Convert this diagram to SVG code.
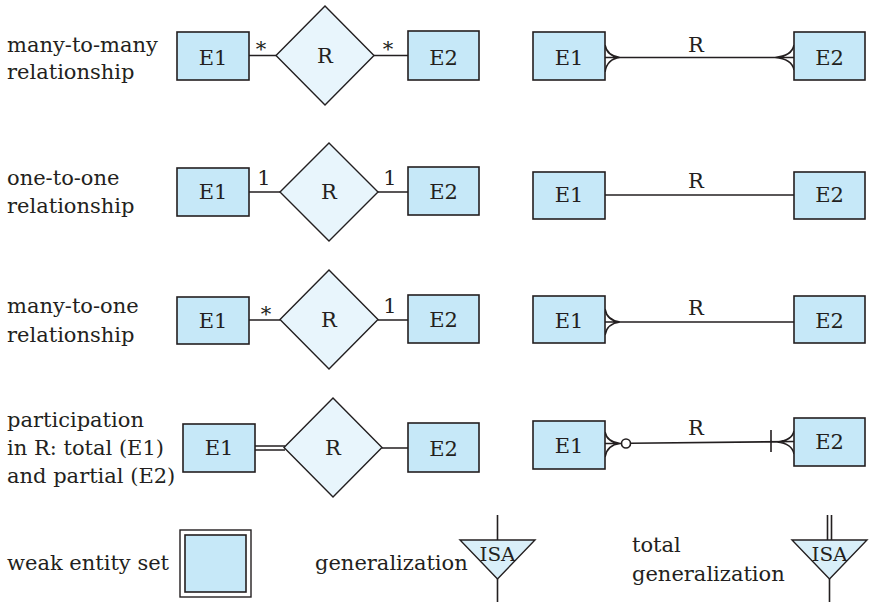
<svg xmlns="http://www.w3.org/2000/svg" width="878" height="602" viewBox="0 0 878 602">
<style>
text{font-family:"DejaVu Serif","Liberation Serif",serif;font-size:21px;fill:#231f20}
.c{text-anchor:middle}
.ent{fill:#c6e8f8;stroke:#231f20;stroke-width:1.6}
.rel{fill:#e8f5fc;stroke:#231f20;stroke-width:1.4}
.ln{fill:none;stroke:#231f20;stroke-width:1.6}
.isa{fill:#d9eff9;stroke:#231f20;stroke-width:1.4}
.it{font-size:19px}
</style>
<rect width="878" height="602" fill="#fff"/>
<g id="labels">
<text x="7" y="52">many-to-many</text><text x="7" y="79">relationship</text>
<text x="7" y="185">one-to-one</text><text x="7" y="213">relationship</text>
<text x="7" y="313">many-to-one</text><text x="7" y="342">relationship</text>
<text x="7" y="427">participation</text><text x="7" y="455">in R: total (E1)</text><text x="7" y="483">and partial (E2)</text>
<text x="7" y="570">weak entity set</text>
<text x="315" y="570">generalization</text>
<text x="632" y="552">total</text><text x="632" y="581">generalization</text>
</g>
<g id="connectors">
<path class="ln" d="M249,55.5H276M374,55.5H408"/>
<path class="ln" d="M249,192H280M378,192H408"/>
<path class="ln" d="M249,320H280M378,320H408"/>
<path class="ln" d="M255,446H285M255,450H285M382,448H408"/>
<path class="ln" d="M605,57.5H794M605,45Q607,56 620,57.5M605,72Q607,59 620,57.5M794,45Q792,56 775,57.5M794,70Q792,59 775,57.5"/>
<path class="ln" d="M605,195H794"/>
<path class="ln" d="M605,322H794M605,309Q607,320.5 620,322M605,335Q607,323.5 620,322"/>
<path class="ln" d="M605,443.5H621.5M605,432Q607,442 620,443.5M605,457Q607,445 620,443.5M630.5,443.3L794,441.5M771,430V452M794,431Q792,440.5 777,442M794,454Q792,443.5 777,442"/>
<circle class="ln" cx="626" cy="443.5" r="4.5"/>
<path class="ln" d="M497.5,515V540M497.5,579V602M827.5,515V540M831.5,515V540M829.5,579V602"/>
</g>
<g id="r1-e1"><rect class="ent" x="177" y="32" width="72" height="48"/><text class="c" x="213" y="65">E1</text></g>
<g id="r1-r"><polygon class="rel" points="325,6 374,55.5 325,105 276,55.5"/><text class="c" x="325" y="63">R</text></g>
<g id="r1-e2"><rect class="ent" x="408" y="31" width="71" height="49"/><text class="c" x="443.5" y="65">E2</text></g>
<text class="c" x="261" y="56">*</text><text class="c" x="388" y="56">*</text>
<g id="r2-e1"><rect class="ent" x="177" y="168" width="72" height="48"/><text class="c" x="213" y="199">E1</text></g>
<g id="r2-r"><polygon class="rel" points="329,143 378,192 329,241 280,192"/><text class="c" x="329" y="199">R</text></g>
<g id="r2-e2"><rect class="ent" x="408" y="167" width="71" height="48"/><text class="c" x="443.5" y="199">E2</text></g>
<text class="c" x="264" y="185">1</text><text class="c" x="390" y="185">1</text>
<g id="r3-e1"><rect class="ent" x="177" y="297" width="72" height="47"/><text class="c" x="213" y="328">E1</text></g>
<g id="r3-r"><polygon class="rel" points="329,270 378,319.5 329,369 280,319.5"/><text class="c" x="329" y="327">R</text></g>
<g id="r3-e2"><rect class="ent" x="408" y="295" width="71" height="48"/><text class="c" x="443.5" y="327">E2</text></g>
<text class="c" x="266" y="321">*</text><text class="c" x="390" y="313">1</text>
<g id="r4-e1"><rect class="ent" x="183" y="424" width="72" height="48"/><text class="c" x="219" y="455">E1</text></g>
<g id="r4-r"><polygon class="rel" points="333,398 382,447.5 333,497 284,447.5"/><text class="c" x="333" y="455">R</text></g>
<g id="r4-e2"><rect class="ent" x="408" y="423" width="71" height="49"/><text class="c" x="443.5" y="456">E2</text></g>
<g id="c1-e1"><rect class="ent" x="533" y="32" width="72" height="48"/><text class="c" x="569" y="65">E1</text></g>
<g id="c1-e2"><rect class="ent" x="794" y="32" width="71" height="48"/><text class="c" x="829.5" y="65">E2</text></g>
<text class="c" x="696" y="52">R</text>
<g id="c2-e1"><rect class="ent" x="533" y="172" width="72" height="47"/><text class="c" x="569" y="202">E1</text></g>
<g id="c2-e2"><rect class="ent" x="794" y="172" width="71" height="47"/><text class="c" x="829.5" y="202">E2</text></g>
<text class="c" x="696" y="188">R</text>
<g id="c3-e1"><rect class="ent" x="533" y="296" width="72" height="47"/><text class="c" x="569" y="328">E1</text></g>
<g id="c3-e2"><rect class="ent" x="794" y="296" width="71" height="47"/><text class="c" x="829.5" y="328">E2</text></g>
<text class="c" x="696" y="315">R</text>
<g id="c4-e1"><rect class="ent" x="533" y="421" width="72" height="48"/><text class="c" x="569" y="453">E1</text></g>
<g id="c4-e2"><rect class="ent" x="794" y="418" width="71" height="48"/><text class="c" x="829.5" y="449">E2</text></g>
<text class="c" x="696" y="435">R</text>
<g id="weak"><rect x="180" y="530" width="71" height="67" fill="#fff" stroke="#231f20" stroke-width="1.4"/><rect class="ent" x="185" y="535" width="61" height="57" stroke-width="1.4"/></g>
<g id="isa1"><polygon class="isa" points="460,540 535,540 497.5,579"/><text class="c it" x="497.5" y="561" textLength="36" lengthAdjust="spacingAndGlyphs">ISA</text></g>
<g id="isa2"><polygon class="isa" points="792,540 867,540 829.5,579"/><text class="c it" x="829.5" y="561" textLength="36" lengthAdjust="spacingAndGlyphs">ISA</text></g>
</svg>
